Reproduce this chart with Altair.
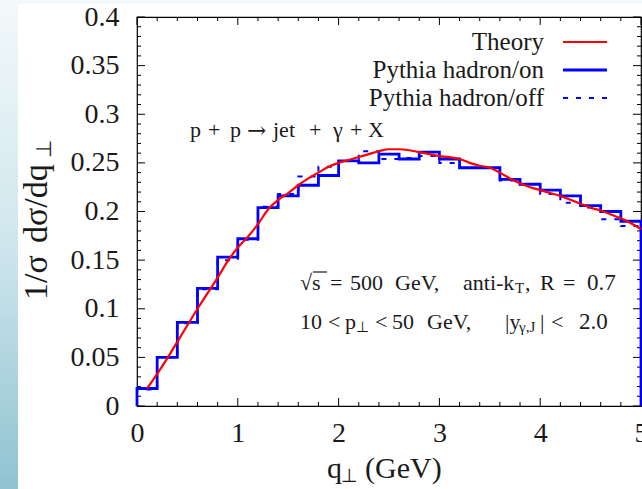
import altair as alt
import pandas as pd

# ---------------- data ----------------
bin_edges = [0.0, 0.2, 0.4, 0.6, 0.8, 1.0, 1.2, 1.4, 1.6, 1.8, 2.0, 2.2, 2.4,
             2.6, 2.8, 3.0, 3.2, 3.4, 3.6, 3.8, 4.0, 4.2, 4.4, 4.6, 4.8, 5.0]
hadron_on = [0.018, 0.050, 0.086, 0.121, 0.153, 0.172, 0.204, 0.216, 0.227,
             0.237, 0.252, 0.250, 0.259, 0.254, 0.261, 0.254, 0.245, 0.245,
             0.233, 0.228, 0.222, 0.216, 0.206, 0.200, 0.190]
hadron_off = [0.017, 0.050, 0.085, 0.120, 0.150, 0.171, 0.205, 0.218, 0.236,
              0.246, 0.252, 0.262, 0.254, 0.255, 0.257, 0.250, 0.245, 0.245,
              0.232, 0.228, 0.218, 0.209, 0.204, 0.192, 0.185]
theory_q = [0.1, 0.2, 0.3, 0.4, 0.5, 0.6, 0.7, 0.8, 0.9, 1.0, 1.1, 1.2, 1.3,
            1.4, 1.5, 1.6, 1.7, 1.8, 1.9, 2.0, 2.1, 2.2, 2.3, 2.4, 2.5, 2.6,
            2.7, 2.8, 2.9, 3.0, 3.1, 3.2, 3.3, 3.4, 3.5, 3.6, 3.7, 3.8, 3.9,
            4.0, 4.1, 4.2, 4.3, 4.4, 4.5, 4.6, 4.7, 4.8, 4.9, 5.0]
theory_v = [0.018, 0.033, 0.049, 0.066, 0.083, 0.100, 0.116, 0.132, 0.149,
            0.163, 0.174, 0.187, 0.202, 0.212, 0.219, 0.227, 0.234, 0.240,
            0.246, 0.250, 0.253, 0.256, 0.259, 0.262, 0.264, 0.264, 0.263,
            0.261, 0.259, 0.257, 0.256, 0.254, 0.250, 0.247, 0.245, 0.240,
            0.234, 0.229, 0.225, 0.222, 0.219, 0.216, 0.212, 0.208, 0.204,
            0.201, 0.197, 0.193, 0.188, 0.182]
x_major = [0, 1, 2, 3, 4, 5]
x_minor = [0.2, 0.4, 0.6, 0.8, 1.2, 1.4, 1.6, 1.8, 2.2, 2.4, 2.6, 2.8, 3.2,
           3.4, 3.6, 3.8, 4.2, 4.4, 4.6, 4.8]
y_major = [0, 0.05, 0.1, 0.15, 0.2, 0.25, 0.3, 0.35, 0.4]
y_minor = [i / 100 for i in range(41) if i % 5 != 0]

W, H = 504, 389
FONT = "Liberation Serif"
TXT = "#1a1a1a"
RED = "#ff0000"
BLUE = "#0000ff"


def step_frame(vals):
    xs = [bin_edges[0]] + bin_edges[:-1] + [bin_edges[-1], bin_edges[-1]]
    ys = [0.0] + vals + [vals[-1], 0.0]
    return pd.DataFrame({"q": xs, "v": ys, "i": list(range(len(xs)))})


xs = alt.Scale(domain=[0, 5], nice=False, zero=False)
ys = alt.Scale(domain=[0, 0.4], nice=False, zero=False)

one = pd.DataFrame({"a": [0]})


def label(text, x, y, size, align="left", baseline="middle", angle=0, font=FONT):
    return alt.Chart(one).mark_text(
        text=text, font=font, fontSize=size, color=TXT, align=align,
        baseline=baseline, angle=angle
    ).encode(x=alt.value(x), y=alt.value(y))


def hrule(x1, x2, y, color, width, dash=None):
    kw = dict(color=color, strokeWidth=width)
    if dash:
        kw["strokeDash"] = dash
    return alt.Chart(one).mark_rule(**kw).encode(
        x=alt.value(x1), x2=alt.value(x2), y=alt.value(y))


# background decoration (slide margin)
bg_left = alt.Chart(one).mark_rect(
    clip=False,
    fill=alt.Gradient(
        gradient="linear", x1=0, x2=0, y1=0, y2=1,
        stops=[alt.GradientStop(offset=0, color="#f3f9fb"),
               alt.GradientStop(offset=0.5, color="#cfe6ed"),
               alt.GradientStop(offset=1, color="#8fc3d1")])
).encode(x=alt.value(-137), x2=alt.value(-119), y=alt.value(-17), y2=alt.value(472))
bg_top = alt.Chart(one).mark_rect(clip=False, fill="#f3f9fb").encode(
    x=alt.value(-119), x2=alt.value(W + 1), y=alt.value(-17), y2=alt.value(-13))

# axes carrying labels only
base = alt.Chart(pd.DataFrame({"q": [0, 5], "v": [0, 0.4]})).mark_point(opacity=0).encode(
    x=alt.X("q:Q", scale=xs, axis=alt.Axis(
        values=x_major, ticks=False, domain=False, grid=False, format="~g",
        labelFont=FONT, labelFontSize=28, labelColor=TXT, labelPadding=13,
        labelFlush=False, labelOverlap=False, title=None)),
    y=alt.Y("v:Q", scale=ys, axis=alt.Axis(
        values=y_major, ticks=False, domain=False, grid=False, format="~g",
        labelFont=FONT, labelFontSize=28, labelColor=TXT, labelPadding=18,
        labelOverlap=False, title=None)),
)


# inward ticks on all four sides
def xticks(vals, length):
    d = pd.DataFrame({"q": vals})
    bottom = alt.Chart(d).mark_rule(color="black", strokeWidth=1).encode(
        x=alt.X("q:Q", scale=xs), y=alt.value(H - length), y2=alt.value(H))
    top = alt.Chart(d).mark_rule(color="black", strokeWidth=1).encode(
        x=alt.X("q:Q", scale=xs), y=alt.value(0), y2=alt.value(length))
    return bottom + top


def yticks(vals, length):
    d = pd.DataFrame({"v": vals})
    left = alt.Chart(d).mark_rule(color="black", strokeWidth=1).encode(
        y=alt.Y("v:Q", scale=ys), x=alt.value(0), x2=alt.value(length))
    right = alt.Chart(d).mark_rule(color="black", strokeWidth=1).encode(
        y=alt.Y("v:Q", scale=ys), x=alt.value(W - length), x2=alt.value(W))
    return left + right


ticks = xticks(x_major, 8) + xticks(x_minor, 4) + yticks(y_major, 8) + yticks(y_minor, 4)

off_line = alt.Chart(step_frame(hadron_off)).mark_line(
    interpolate="step-after", color=BLUE, strokeWidth=2, strokeDash=[5, 8]
).encode(x=alt.X("q:Q", scale=xs), y=alt.Y("v:Q", scale=ys), order="i:Q")
on_line = alt.Chart(step_frame(hadron_on)).mark_line(
    interpolate="step-after", color=BLUE, strokeWidth=2.8
).encode(x=alt.X("q:Q", scale=xs), y=alt.Y("v:Q", scale=ys), order="i:Q")
theory = alt.Chart(pd.DataFrame({"q": theory_q, "v": theory_v})).mark_line(
    interpolate="monotone", color=RED, strokeWidth=2.2
).encode(x=alt.X("q:Q", scale=xs), y=alt.Y("v:Q", scale=ys))

# legend (label left of sample, as in the original)
leg = (
    label("Theory", 407, 25, 25, align="right")
    + label("Pythia hadron/on", 407, 53, 25, align="right")
    + label("Pythia hadron/off", 407, 81, 25, align="right")
    + hrule(426, 470, 25, RED, 2.2)
    + hrule(426, 470, 53, BLUE, 2.8)
    + hrule(426, 470, 81, BLUE, 2, [5, 8])
)

# annotations (plot coordinates = picture pixels - (137, 17))
A = 22
S = 15
ann = (
    # p + p -> jet + gamma + X
    label("p", 53, 113, A) + label("+", 71, 113, A) + label("p", 93, 113, A)
    + label("→", 110, 114, 23, font="DejaVu Serif") + label("jet", 136, 113, A)
    + label("+", 172, 113, A)
    + label("γ", 196, 113, A) + label("+", 213, 113, A) + label("X", 231, 113, A)
    # line 1
    + label("√s", 163, 266, A)
    + hrule(176, 190, 255, TXT, 1.2)
    + label("=", 193, 266, A)
    + label("500", 213, 266, A)
    + label("GeV,", 258, 266, A)
    + label("anti-k", 326, 266, A)
    + label("T", 378, 271, S)
    + label(",", 388, 266, A)
    + label("R", 403, 266, A)
    + label("=", 426, 266, A)
    + label("0.7", 450, 266, 23)
    # line 2
    + label("10", 163, 305, A)
    + label("<", 191, 305, A)
    + label("p", 208, 305, A)
    + label("⊥", 219, 310, S)
    + label("<", 238, 305, A)
    + label("50", 255, 305, A)
    + label("GeV,", 290, 305, A)
    + label("|y", 368, 305, A)
    + label("γ,J", 382, 310, S)
    + label("|", 403, 305, A)
    + label("<", 414, 305, A)
    + label("2.0", 442, 305, 23)
)

# axis titles built from pieces so the ⊥ can sit as a subscript
T = 30


def vtext(text, py, size, dx=0):
    # rotated text starting at picture row py, baseline at picture column 47
    return label(text, -90 + dx, py - 17, size, baseline="alphabetic", angle=270)


titles = (
    label("q", 190, 452, T)
    + label("⊥", 204, 459, 19)
    + label("(GeV)", 228, 452, T)
    + vtext("1/σ", 300, 34)
    + vtext("dσ/dq", 243, 34)
    + vtext("⊥", 158, 21, dx=4)
)

chart = alt.layer(
    bg_left, bg_top, base, ticks, off_line, on_line, theory, leg, ann, titles
).properties(
    width=W, height=H,
    autosize=alt.AutoSizeParams(type="none"),
    padding={"left": 137, "top": 17, "right": 1, "bottom": 83},
    background="white",
).configure_view(stroke="black", strokeWidth=1.2)

chart.save("out.html", embed_options={"renderer": "svg", "actions": False})
